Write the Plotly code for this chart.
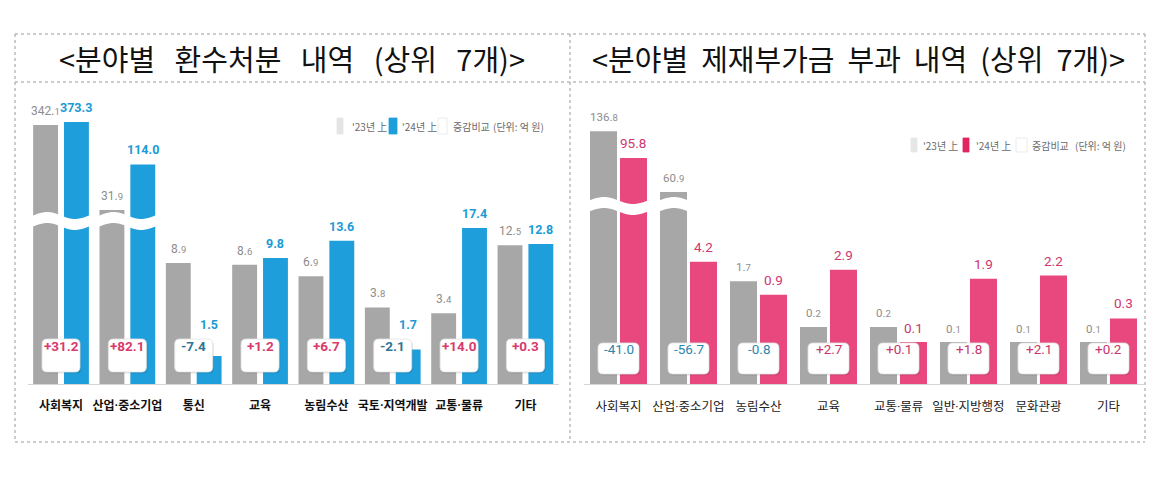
import math
import plotly.graph_objects as go

# ---------------- data ----------------
left_categories = ["사회복지", "산업·중소기업", "통신", "교육", "농림수산", "국토·지역개발", "교통·물류", "기타"]
left_2023 = [342.1, 31.9, 8.9, 8.6, 6.9, 3.8, 3.4, 12.5]
left_2024 = [373.3, 114.0, 1.5, 9.8, 13.6, 1.7, 17.4, 12.8]
left_change = [31.2, 82.1, -7.4, 1.2, 6.7, -2.1, 14.0, 0.3]

right_categories = ["사회복지", "산업·중소기업", "농림수산", "교육", "교통·물류", "일반·지방행정", "문화관광", "기타"]
right_2023 = [136.8, 60.9, 1.7, 0.2, 0.2, 0.1, 0.1, 0.1]
right_2024 = [95.8, 4.2, 0.9, 2.9, 0.1, 1.9, 2.2, 0.3]
right_change = [-41.0, -56.7, -0.8, 2.7, 0.1, 1.8, 2.1, 0.2]

NB = "\u00a0"
left_title = f"<분야별{NB*3}환수처분{NB*3}내역{NB*3}(상위{NB*3}7개)>"
right_title = f"<분야별{NB*2}제재부가금{NB*2}부과{NB*2}내역{NB*2}(상위{NB*2}7개)>"
legend_labels = ["'23년 上", "'24년 上", "증감비교", "(단위: 억 원)"]

# ---------------- style ----------------
W, H = 1167, 478
GRAY = "#a7a7a7"
BLUE = "#1e9fdb"
PINK = "#e9487f"
KR = "Noto Sans CJK KR"
NUM = "Roboto, Noto Sans CJK KR"
CAT = "Roboto, Noto Sans CJK KR"


def py(p):
    return 1 - p / H


def pxx(p):
    return p / W


BASE_PX = 384
TOP_PX = 100

panels = [
    dict(cats=left_categories, v23=left_2023, v24=left_2024, chg=left_change, c24=BLUE,
         xdom=(27.85, 558.6), brk=221, low=(-0.0569, 1.298), up=(1.37, 2.838),
         off=(-0.42, 0.045), w=0.375, xa="x", ylo="y", yup="y2",
         lab23=dict(size=12, color="#8d8d8d"), lab24=dict(size=12.5, color="#1b9ad6", weight="bold"),
         tick=dict(size=12, color="#111111", family=CAT, weight="bold"),
         box=(19, 339, 372), chgweight="bold", pos="#d93a6b", neg="#2f7395",
         legend=dict(y=126, sw=[(337, 343, "#e4e4e4"), (389, 397, BLUE), (438, 447, "#ffffff")],
                     tx=[350, 400, 451, 491], h=16)),
    dict(cats=right_categories, v23=right_2023, v24=right_2024, chg=right_change, c24=PINK,
         xdom=(583.5, 1143.5), brk=206, low=(-1.85, 1.75), up=(1.704, 2.317),
         off=(-0.407, 0.021), w=0.386, xa="x2", ylo="y3", yup="y4",
         lab23=dict(size=11.5, color="#8d8d8d"), lab24=dict(size=13.5, color="#cf3570"),
         tick=dict(size=12.5, color="#222222", family=CAT),
         box=(20.5, 343, 374), chgweight="normal", pos="#c8346c", neg="#2b86ad",
         legend=dict(y=145, sw=[(911, 917, "#e6e6e6"), (963, 969, "#e3245f"), (1016, 1027, "#ffffff")],
                     tx=[921, 974, 1030, 1073], h=14)),
]


def fmt_small_decimal(v, small):
    whole, dec = f"{v:.1f}".split(".")
    return f"{whole}.<span style='font-size:{small}px'>{dec}</span>"


fig = go.Figure()
shapes = []
annotations = []
layout_axes = {}

for k, p in enumerate(panels):
    n = len(p["cats"])
    xs = list(range(n))
    pitch = (p["xdom"][1] - p["xdom"][0]) / n
    for vals, col, off in [(p["v23"], GRAY, p["off"][0]), (p["v24"], p["c24"], p["off"][1])]:
        for yname in (p["ylo"], p["yup"]):
            fig.add_trace(go.Bar(x=xs, y=vals, xaxis=p["xa"], yaxis=yname, width=p["w"], offset=off,
                                 marker=dict(color=col, line=dict(width=0)), showlegend=False,
                                 hoverinfo="skip"))
    # axes
    xkey = "xaxis" if p["xa"] == "x" else "xaxis2"
    lokey = "yaxis" + ("" if p["ylo"] == "y" else p["ylo"][1:])
    upkey = "yaxis" + p["yup"][1:]
    layout_axes[xkey] = dict(domain=[pxx(p["xdom"][0]), pxx(p["xdom"][1])], range=[-0.5, n - 0.5],
                             tickvals=xs, ticktext=p["cats"], showgrid=False, zeroline=False,
                             showline=True, linecolor="#d4d4d4", linewidth=1, ticks="", tickangle=0,
                             tickfont=p["tick"], anchor=p["ylo"], ticklabelstandoff=11, fixedrange=True)
    layout_axes[lokey] = dict(type="log", range=list(p["low"]), domain=[py(BASE_PX), py(p["brk"])],
                              visible=False, anchor=p["xa"], fixedrange=True)
    layout_axes[upkey] = dict(type="log", range=list(p["up"]), domain=[py(p["brk"]), py(TOP_PX)],
                              visible=False, anchor=p["xa"], fixedrange=True)

    # value labels
    box_top = p["box"][1]
    lo0, lo1 = p["low"]
    for vals, off, fnt, small in [(p["v23"], p["off"][0], p["lab23"], True),
                                  (p["v24"], p["off"][1], p["lab24"], False)]:
        for i, v in enumerate(vals):
            lv = math.log10(v)
            yref = p["ylo"] if lv <= lo1 else p["yup"]
            shift = 5
            if yref == p["ylo"]:
                top_px = BASE_PX - (lv - lo0) / (lo1 - lo0) * (BASE_PX - p["brk"])
                if top_px > box_top - 4:
                    shift = top_px - box_top + 5
            txt = fmt_small_decimal(v, 9.5) if small else f"{v:.1f}"
            annotations.append(dict(x=i + off + p["w"] / 2, xref=p["xa"], y=lv, yref=yref,
                                    text=txt, showarrow=False, yanchor="bottom", yshift=shift,
                                    font=dict(family=NUM, **fnt)))

    # break bands for broken pairs
    brk = p["brk"]
    for i in xs:
        if max(p["v23"][i], p["v24"][i]) > 10 ** p["low"][1]:
            pts = 24
            x0, x1 = i - 0.47, i + 0.47
            top, bot = [], []
            for j in range(pts + 1):
                t = x0 + (x1 - x0) * j / pts
                c = brk + 3.5 * math.sin(math.pi * (t - i) / 0.42)
                top.append((t, py(c - 5.5)))
                bot.append((t, py(c + 5.5)))
            path = "M " + " L ".join(f"{a:.4f},{b:.5f}" for a, b in top)
            path += " L " + " L ".join(f"{a:.4f},{b:.5f}" for a, b in reversed(bot)) + " Z"
            shapes.append(dict(type="path", path=path, xref=p["xa"], yref="paper",
                               fillcolor="white", line=dict(width=0), layer="above"))

    # change boxes
    hw, yt, yb = p["box"]
    rx = 5 / pitch
    for i, c in enumerate(p["chg"]):
        for dx, dy, fill, lc in [(1.2 / pitch, 1.5, "rgba(0,0,0,0.10)", "rgba(0,0,0,0)"),
                                 (0, 0, "white", "#e2e2e2")]:
            a0 = i - hw / pitch + dx
            a1 = i + hw / pitch + dx
            t0, t1 = yt + dy, yb + dy
            r = 5
            path = (f"M {a0 + rx:.4f},{py(t0):.5f} L {a1 - rx:.4f},{py(t0):.5f} "
                    f"Q {a1:.4f},{py(t0):.5f} {a1:.4f},{py(t0 + r):.5f} "
                    f"L {a1:.4f},{py(t1 - r):.5f} Q {a1:.4f},{py(t1):.5f} {a1 - rx:.4f},{py(t1):.5f} "
                    f"L {a0 + rx:.4f},{py(t1):.5f} Q {a0:.4f},{py(t1):.5f} {a0:.4f},{py(t1 - r):.5f} "
                    f"L {a0:.4f},{py(t0 + r):.5f} Q {a0:.4f},{py(t0):.5f} {a0 + rx:.4f},{py(t0):.5f} Z")
            shapes.append(dict(type="path", path=path, xref=p["xa"], yref="paper",
                               fillcolor=fill, line=dict(color=lc, width=0.8), layer="above"))
        annotations.append(dict(x=i, xref=p["xa"], y=py((yt + yb) / 2), yref="paper",
                                text=f"{c:+.1f}", showarrow=False,
                                font=dict(family=NUM, size=13.5, weight=p["chgweight"],
                                          color=p["pos"] if c > 0 else p["neg"])))

    # custom legend
    lg = p["legend"]
    for (s0, s1, col) in lg["sw"]:
        shapes.append(dict(type="rect", xref="paper", yref="paper", x0=pxx(s0), x1=pxx(s1),
                           y0=py(lg["y"] + lg["h"] / 2), y1=py(lg["y"] - lg["h"] / 2),
                           fillcolor=col, line=dict(color="#e6e6e6" if col == "#ffffff" else col, width=0.8)))
    for tx, lab in zip(lg["tx"], legend_labels):
        annotations.append(dict(x=pxx(tx), y=py(lg["y"]), xref="paper", yref="paper", text=lab,
                                showarrow=False, xanchor="left", yanchor="middle",
                                font=dict(family=KR, size=10, color="#6a6a6a")))

# titles
for title, cx in [(left_title, 292), (right_title, 858)]:
    annotations.append(dict(x=pxx(cx), y=py(58), xref="paper", yref="paper", text=title,
                            showarrow=False, xanchor="center", yanchor="middle",
                            font=dict(family=KR, size=29, color="#111111")))

# dotted frame
dot = dict(color="#9a9a9a", width=1, dash="dot")
for x0, y0, x1, y1 in [(15, 34, 1145, 34), (15, 442, 1145, 442), (15, 34, 15, 442), (1145, 34, 1145, 442),
                       (15, 82, 1145, 82), (570, 34, 570, 442)]:
    shapes.append(dict(type="line", xref="paper", yref="paper", x0=pxx(x0), y0=py(y0),
                       x1=pxx(x1), y1=py(y1), line=dot))

fig.update_layout(width=W, height=H, margin=dict(l=0, r=0, t=0, b=0), barmode="overlay",
                  paper_bgcolor="white", plot_bgcolor="white", showlegend=False,
                  shapes=shapes, annotations=annotations, **layout_axes)

fig.write_html("out.html", config={"displayModeBar": False},
               post_script="document.body.style.margin='0px';")
